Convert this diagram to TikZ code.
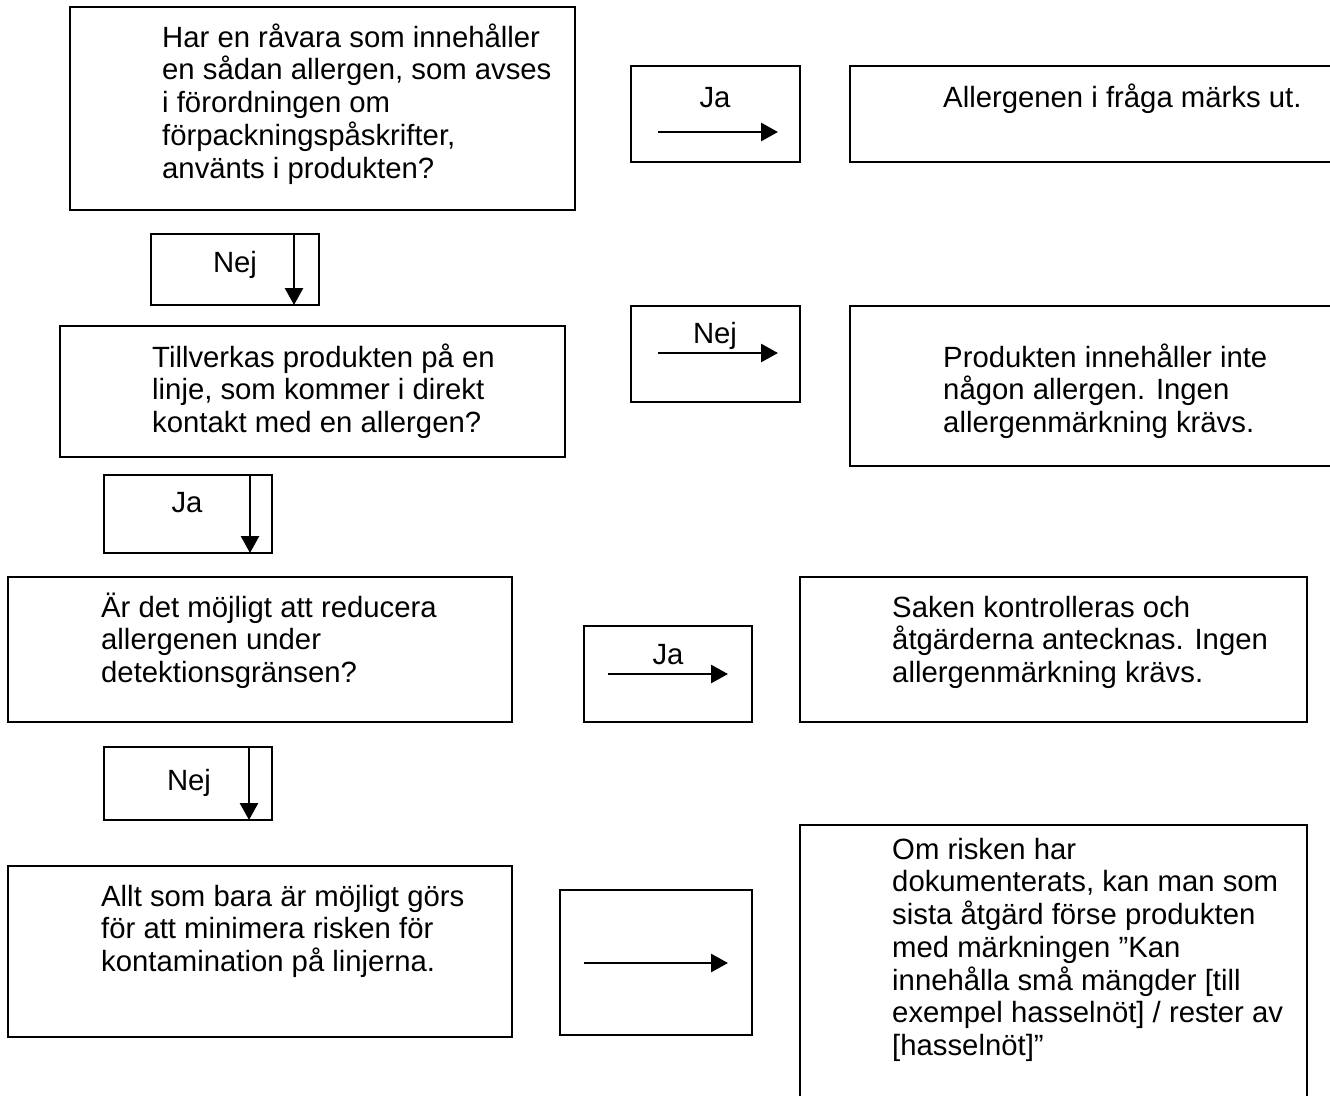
\documentclass[tikz,border=0pt]{standalone}
\usepackage{fontspec}
\setmainfont{Liberation Sans}
\usetikzlibrary{arrows.meta}
\newcommand\fstline{\rule{0pt}{27pt}}
\tikzset{
  box/.style={draw=black, line width=2.4pt, inner sep=0pt, rectangle},
  txt/.style={anchor=north west, inner sep=0pt, align=left, font=\fontsize{29.3}{32.75}\selectfont},
  lbl/.style={anchor=base, inner sep=0pt, font=\fontsize{29.3}{32.75}\selectfont},
  arr/.style={line width=2.8pt, -{Triangle[length=17pt,width=18pt]}},
}
\begin{document}
\begin{tikzpicture}[x=1pt,y=-1pt]
\useasboundingbox (0,0) rectangle (1330,1095);
\clip (0,0) rectangle (1330,1095);
\fill[white] (0,0) rectangle (1330,1095);

% boxes
\node[box, minimum width=505pt, minimum height=203pt] (A) at (322.5,108.5) {};
\node[box, minimum width=169pt, minimum height=96pt] (jh1) at (715.5,114) {};
\node[box, minimum width=495pt, minimum height=96pt] (R1) at (1097.5,114) {};
\node[box, minimum width=168pt, minimum height=71pt] (nv1) at (235,269.5) {};
\node[box, minimum width=505pt, minimum height=131pt] (B) at (312.5,391.5) {};
\node[box, minimum width=169pt, minimum height=96pt] (nh) at (715.5,354) {};
\node[box, minimum width=495pt, minimum height=160pt] (R2) at (1097.5,386) {};
\node[box, minimum width=168pt, minimum height=78pt] (jv) at (188,514) {};
\node[box, minimum width=504pt, minimum height=145pt] (C) at (260,649.5) {};
\node[box, minimum width=168pt, minimum height=96pt] (jh2) at (668,674) {};
\node[box, minimum width=507pt, minimum height=145pt] (R3) at (1053.5,649.5) {};
\node[box, minimum width=168pt, minimum height=73pt] (nv2) at (188,783.5) {};
\node[box, minimum width=504pt, minimum height=171pt] (D) at (260,951.5) {};
\node[box, minimum width=192pt, minimum height=145pt] (P) at (656,962.5) {};
\node[box, minimum width=507pt, minimum height=290pt] (R4) at (1053.5,970) {};

% texts
\node[txt] (tA) at (162,20) {\fstline Har en råvara som innehåller\\en sådan allergen, som avses\\i förordningen om\\förpackningspåskrifter,\\använts i produkten?};
\node[txt] (tR1) at (943,80) {\fstline Allergenen i fråga märks ut.};
\node[txt] (tB) at (152,340) {\fstline Tillverkas produkten på en\\linje, som kommer i direkt\\kontakt med en allergen?};
\node[txt] (tR2) at (943,340) {\fstline Produkten innehåller inte\\någon allergen. Ingen\\allergenmärkning krävs.};
\node[txt] (tC) at (101,590) {\fstline Är det möjligt att reducera\\allergenen under\\detektionsgränsen?};
\node[txt] (tR3) at (892,590) {\fstline Saken kontrolleras och\\åtgärderna antecknas. Ingen\\allergenmärkning krävs.};
\node[txt] (tD) at (101,879) {\fstline Allt som bara är möjligt görs\\för att minimera risken för\\kontamination på linjerna.};
\node[txt] (tR4) at (892,832) {\fstline Om risken har\\dokumenterats, kan man som\\sista åtgärd förse produkten\\med märkningen ”Kan\\innehålla små mängder {[}till\\exempel hasselnöt{]} / rester av\\{[}hasselnöt{]}”};

% labels
\node[lbl] (l1) at (715,107) {Ja};
\node[lbl] (l2) at (235,272) {Nej};
\node[lbl] (l3) at (715,343) {Nej};
\node[lbl] (l4) at (187,512) {Ja};
\node[lbl] (l5) at (668,664) {Ja};
\node[lbl] (l6) at (189,790) {Nej};

% arrow end points
\coordinate (a1s) at (658,132); \coordinate (a1e) at (778,132);
\coordinate (a2s) at (294,234); \coordinate (a2e) at (294,305);
\coordinate (a3s) at (658,353); \coordinate (a3e) at (778,353);
\coordinate (a4s) at (250,475); \coordinate (a4e) at (250,553);
\coordinate (a5s) at (608,674); \coordinate (a5e) at (728,674);
\coordinate (a6s) at (249,747); \coordinate (a6e) at (249,820);
\coordinate (a7s) at (584,963); \coordinate (a7e) at (728,963);

\draw[arr] (a1s) -- (a1e);
\draw[arr] (a2s) -- (a2e);
\draw[arr] (a3s) -- (a3e);
\draw[arr] (a4s) -- (a4e);
\draw[arr] (a5s) -- (a5e);
\draw[arr] (a6s) -- (a6e);
\draw[arr] (a7s) -- (a7e);
\end{tikzpicture}
\end{document}
